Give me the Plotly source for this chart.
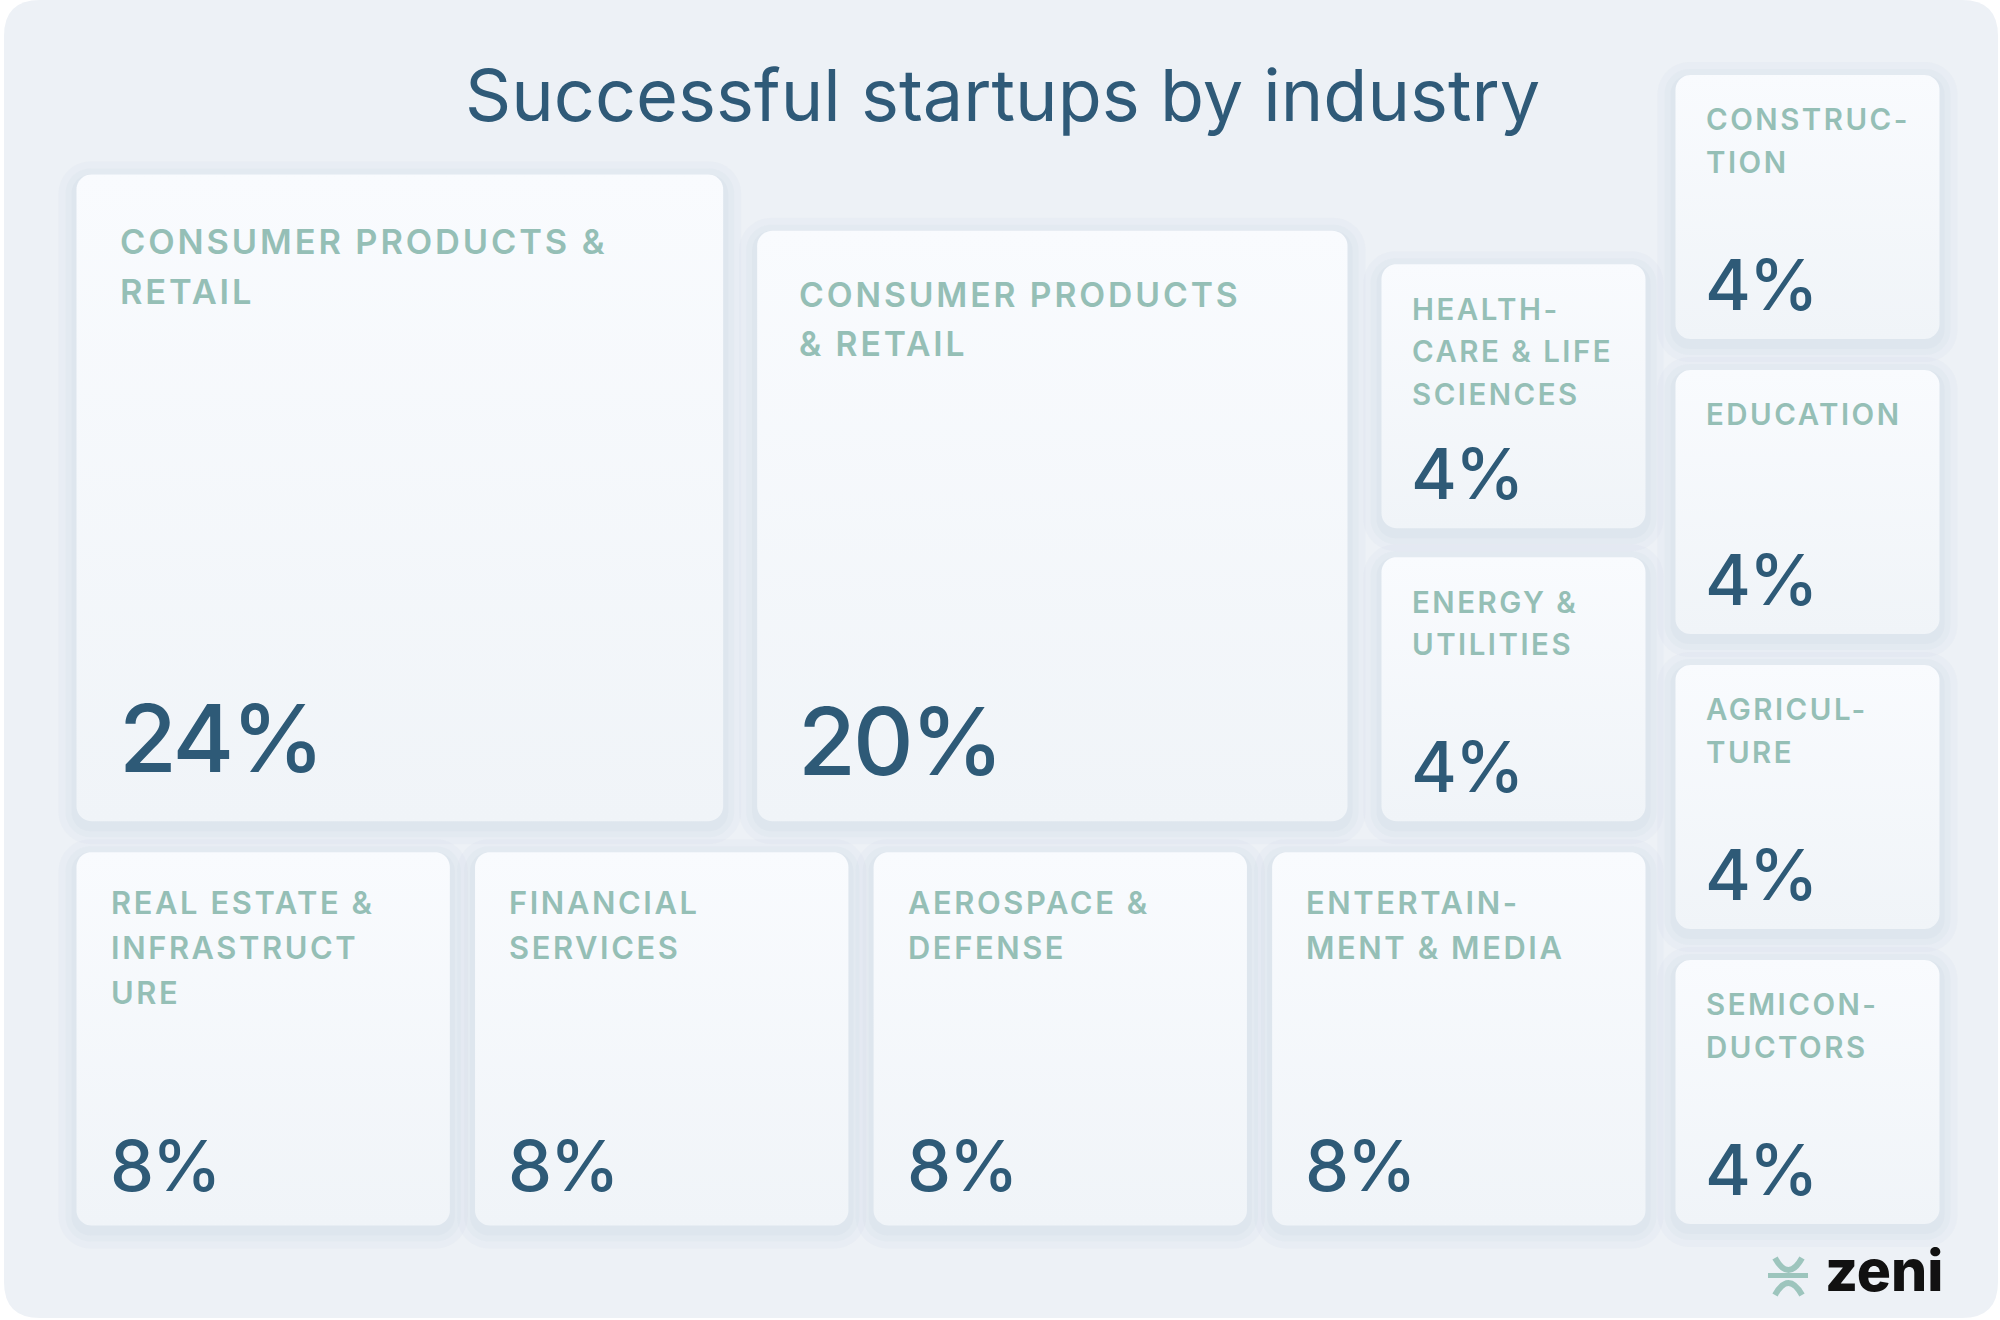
import numpy as np
import plotly.graph_objects as go

# ---------------- data ----------------
industries = [
    "Consumer products & retail", "Consumer products & retail",
    "Healthcare & life sciences", "Energy & utilities",
    "Real estate & infrastructure", "Financial services",
    "Aerospace & defense", "Entertainment & media",
    "Construction", "Education", "Agriculture", "Semiconductors",
]
label_lines = [
    ["CONSUMER PRODUCTS &", "RETAIL"],
    ["CONSUMER PRODUCTS", "& RETAIL"],
    ["HEALTH-", "CARE & LIFE", "SCIENCES"],
    ["ENERGY &", "UTILITIES"],
    ["REAL ESTATE &", "INFRASTRUCT", "URE"],
    ["FINANCIAL", "SERVICES"],
    ["AEROSPACE &", "DEFENSE"],
    ["ENTERTAIN-", "MENT & MEDIA"],
    ["CONSTRUC-", "TION"],
    ["EDUCATION"],
    ["AGRICUL-", "TURE"],
    ["SEMICON-", "DUCTORS"],
]
share_pct = [24, 20, 4, 4, 8, 8, 8, 8, 4, 4, 4, 4]
title = "Successful startups by industry"
brand = "zeni"

# arrangement of the cards (indices into the lists above)
top_row_columns = [[0], [1], [2, 3]]
bottom_row = [4, 5, 6, 7]
side_column = [8, 9, 10, 11]

# ---------------- styling ----------------
W, H = 2000, 1320
K = 132.0                      # px per sqrt(share): card area is proportional to share
LEFT0, BASE_BOTTOM = 76.5, 1225.5
GAP_TOP, GAP_STACK, GAP_ROW, GAP_COL, GAP_SIDE = 34, 29, 31, 30, 31
FONT = "Inter"
LABEL_COLOR = "#95bfb6"
NUM_COLOR = "#2e5a77"
PANEL_COLOR = "#edf1f6"


def side(i):
    return K * np.sqrt(share_pct[i])


# ---------------- layout computation ----------------
boxes = {}
bottom_top = BASE_BOTTOM - max(side(i) for i in bottom_row)
top_base = bottom_top - GAP_ROW
x = LEFT0
for col in top_row_columns:
    w = max(side(i) for i in col)
    y = top_base
    for i in reversed(col):
        s = side(i)
        boxes[i] = (x, y - s, x + s, y)
        y -= s + GAP_STACK
    x += w + GAP_TOP
top_right = x - GAP_TOP

sides_b = [side(i) for i in bottom_row]
gb = (top_right - LEFT0 - sum(sides_b)) / (len(bottom_row) - 1)
x = LEFT0
for i in bottom_row:
    s = side(i)
    boxes[i] = (x, BASE_BOTTOM - s, x + s, BASE_BOTTOM)
    x += s + gb

x = top_right + GAP_COL
y = BASE_BOTTOM - 1.5
for i in reversed(side_column):
    s = side(i)
    boxes[i] = (x, y - s, x + s, y)
    y -= s + GAP_SIDE


def rr_pts(x0, y0, x1, y1, r, n=12):
    xs, ys = [], []
    for cx, cy, a0, a1 in [(x1 - r, y0 + r, -90, 0), (x1 - r, y1 - r, 0, 90),
                           (x0 + r, y1 - r, 90, 180), (x0 + r, y0 + r, 180, 270)]:
        t = np.radians(np.linspace(a0, a1, n))
        xs.extend(cx + r * np.cos(t))
        ys.extend(cy + r * np.sin(t))
    xs.append(xs[0]); ys.append(ys[0])
    return xs, ys


def rr_path(x0, y0, x1, y1, r):
    return (f"M {x0+r},{y0} L {x1-r},{y0} Q {x1},{y0} {x1},{y0+r} "
            f"L {x1},{y1-r} Q {x1},{y1} {x1-r},{y1} L {x0+r},{y1} "
            f"Q {x0},{y1} {x0},{y1-r} L {x0},{y0+r} Q {x0},{y0} {x0+r},{y0} Z")


fig = go.Figure()

# soft shadows
for i, (x0, y0, x1, y1) in boxes.items():
    for e, a in [(18, 0.10), (11, 0.12), (5, 0.16)]:
        xs, ys = rr_pts(x0 - e, y0 - e + 5, x1 + e, y1 + e + 5, 14 + e)
        fig.add_trace(go.Scatter(x=xs, y=ys, mode="none", fill="toself",
                                 fillcolor=f"rgba(196,210,224,{a})",
                                 hoverinfo="skip", showlegend=False))

# cards
for i, (x0, y0, x1, y1) in boxes.items():
    xs, ys = rr_pts(x0, y0, x1, y1, 15)
    fig.add_trace(go.Scatter(
        x=xs, y=ys, mode="none", fill="toself",
        fillgradient=dict(type="vertical",
                          colorscale=[[0, "#f0f4f8"], [1, "#f9fbfe"]]),
        hoverinfo="skip", showlegend=False, name=industries[i]))

annotations = []
for i, (x0, y0, x1, y1) in boxes.items():
    s = x1 - x0
    fs_lab = 26 + 0.013 * s
    pad = 20 + 0.035 * s
    cap_off = 18 + 0.055 * s
    lh = 1.45 * fs_lab
    for j, line in enumerate(label_lines[i]):
        cap_top = y0 + cap_off + j * lh
        annotations.append(dict(
            x=x0 + pad, y=cap_top - 0.242 * fs_lab, xref="x", yref="y",
            xanchor="left", yanchor="top", showarrow=False, borderpad=0,
            text=f'<span style="letter-spacing:{0.085*fs_lab:.1f}px">{line}</span>',
            font=dict(family=FONT, size=fs_lab, color=LABEL_COLOR, weight=600)))
    fs_num = 94 if s > 500 else 70
    ls_num = -3 if s > 500 else -2
    baseline = y1 - (14 + 0.052 * s)
    annotations.append(dict(
        x=x0 + pad - 1, y=baseline + 0.242 * fs_num, xref="x", yref="y",
        xanchor="left", yanchor="bottom", showarrow=False, borderpad=0,
        text=f'<span style="letter-spacing:{ls_num}px">{share_pct[i]}%</span>',
        font=dict(family=FONT, size=fs_num, color=NUM_COLOR, weight=500)))

# title
annotations.append(dict(
    x=1002, y=122 + 0.242 * 72, xref="x", yref="y", xanchor="center",
    yanchor="bottom", showarrow=False, borderpad=0, text=title,
    font=dict(family=FONT, size=72, color="#2f5a78", weight=400)))

# brand
annotations.append(dict(
    x=1824, y=1292 + 0.242 * 57, xref="x", yref="y", xanchor="left",
    yanchor="bottom", showarrow=False, borderpad=0, text=brand,
    font=dict(family=FONT, size=57, color="#111111", weight=800)))

shapes = [
    dict(type="path", path=rr_path(4, 0, 1998, 1318, 36), xref="x", yref="y",
         fillcolor=PANEL_COLOR, line=dict(width=0), layer="below"),
    dict(type="path", path="M 1775,1258 Q 1788.5,1282 1802,1258", xref="x", yref="y",
         line=dict(color="#9dc5bd", width=6)),
    dict(type="path", path="M 1768,1275.5 L 1808,1275.5", xref="x", yref="y",
         line=dict(color="#9dc5bd", width=5)),
    dict(type="path", path="M 1775,1295 Q 1788.5,1271 1802,1295", xref="x", yref="y",
         line=dict(color="#9dc5bd", width=6)),
]

fig.update_layout(
    width=W, height=H, margin=dict(l=0, r=0, t=0, b=0),
    paper_bgcolor="white", plot_bgcolor="rgba(0,0,0,0)",
    xaxis=dict(range=[0, W], visible=False, fixedrange=True),
    yaxis=dict(range=[H, 0], visible=False, fixedrange=True),
    annotations=annotations, shapes=shapes, showlegend=False,
)

fig.write_html("out.html", config={"displayModeBar": False},
               post_script="document.body.style.margin='0';document.body.style.overflow='hidden';")
